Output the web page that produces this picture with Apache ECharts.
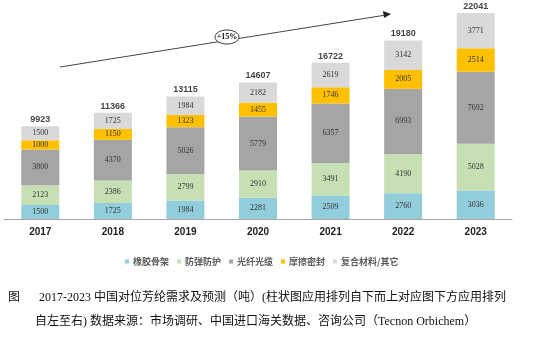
<!DOCTYPE html>
<html>
<head>
<meta charset="utf-8">
<script src="https://cdn.jsdelivr.net/npm/echarts@6/dist/echarts.min.js"></script>
<style>
  html, body { margin: 0; padding: 0; background: #fff; }
  #chart { width: 554px; height: 341px; }
</style>
</head>
<body>
<div id="chart"></div>
<script>
// 年份
var years = ["2017", "2018", "2019", "2020", "2021", "2022", "2023"];
// 各应用需求量（吨），自下而上
var rubber = [1500, 1725, 1984, 2281, 2509, 2760, 3036];
var armor = [2123, 2386, 2799, 2910, 3491, 4190, 5028];
var fiber = [3800, 4370, 5026, 5779, 6357, 6993, 7692];
var friction = [1000, 1150, 1323, 1455, 1746, 2005, 2514];
var composite = [1500, 1725, 1984, 2182, 2619, 3142, 3771];
// 柱顶合计
var totals = [9923, 11366, 13115, 14607, 16722, 19180, 22041];

var seriesNames = ["橡胶骨架", "防弹防护", "光纤光缆", "摩擦密封", "复合材料/其它"];
var seriesData = [rubber, armor, fiber, friction, composite];
var colors = ["#92cddc", "#c6e0b4", "#a5a5a5", "#ffc000", "#d9d9d9"];

var chartDom = document.getElementById("chart");
var myChart = echarts.init(chartDom);

var series = seriesNames.map(function (name, i) {
  return {
    name: name,
    type: "bar",
    stack: "total",
    barWidth: 38,
    itemStyle: { color: colors[i] },
    label: {
      show: true,
      position: "inside",
      color: "#333",
      fontSize: 8,
      fontFamily: "Liberation Serif",
    },
    data: seriesData[i],
  };
});

// 合计标签
series.push({
  name: "合计",
  type: "scatter",
  symbolSize: 0,
  silent: true,
  label: {
    show: true,
    position: "top",
    distance: 2,
    color: "#111",
    fontSize: 9,
    fontWeight: "bold",
    fontFamily: "Liberation Sans",
  },
  data: totals,
});

var option = {
  animation: false,
  grid: { left: 4, right: 42, top: 10, bottom: 122 },
  legend: {
    data: seriesNames,
    top: 252,
    left: 120,
    itemWidth: 4,
    itemHeight: 4,
    itemGap: 8,
    icon: "rect",
    textStyle: {
      color: "#595959",
      fontSize: 9,
      fontWeight: "bold",
      fontFamily: "Noto Sans CJK SC",
      padding: [0, 0, 0, -1],
    },
  },
  xAxis: {
    type: "category",
    data: years,
    axisLine: { lineStyle: { color: "#a6a6a6", width: 1 } },
    axisTick: { inside: true, length: 3, lineStyle: { color: "#a6a6a6" } },
    axisLabel: {
      color: "#222",
      fontSize: 10,
      fontWeight: "bold",
      fontFamily: "Liberation Sans",
      margin: 8,
    },
  },
  yAxis: {
    type: "value",
    min: 0,
    max: 22360,
    show: false,
  },
  graphic: [
    // 趋势箭头
    {
      type: "line",
      shape: { x1: 60, y1: 67, x2: 386, y2: 15 },
      style: { stroke: "#444", lineWidth: 1 },
      z: 10,
    },
    {
      type: "polygon",
      shape: { points: [[391, 14], [383, 11], [384, 18]] },
      style: { fill: "#222" },
      z: 10,
    },
    {
      type: "ellipse",
      shape: { cx: 227, cy: 37, rx: 12, ry: 7 },
      style: { fill: "#fff", stroke: "#333", lineWidth: 1 },
      z: 11,
    },
    {
      type: "text",
      x: 227,
      y: 37,
      style: {
        text: "+15%",
        fill: "#111",
        font: "bold 8px Liberation Serif",
        align: "center",
        verticalAlign: "middle",
      },
      z: 12,
    },
    // 图注
    {
      type: "text",
      left: 8,
      top: 292,
      style: {
        text: "图",
        fill: "#111",
        font: "12px Liberation Serif, Noto Sans CJK SC",
      },
    },
    {
      type: "text",
      left: 39,
      top: 292,
      style: {
        text: "2017-2023 中国对位芳纶需求及预测（吨）(柱状图应用排列自下而上对应图下方应用排列",
        fill: "#111",
        font: "12px Liberation Serif, Noto Sans CJK SC",
      },
    },
    {
      type: "text",
      left: 35,
      top: 316,
      style: {
        text: "自左至右) 数据来源：市场调研、中国进口海关数据、咨询公司（Tecnon Orbichem）",
        fill: "#111",
        font: "12px Liberation Serif, Noto Sans CJK SC",
      },
    },
  ],
  series: series,
};

option && myChart.setOption(option);
</script>
</body>
</html>
